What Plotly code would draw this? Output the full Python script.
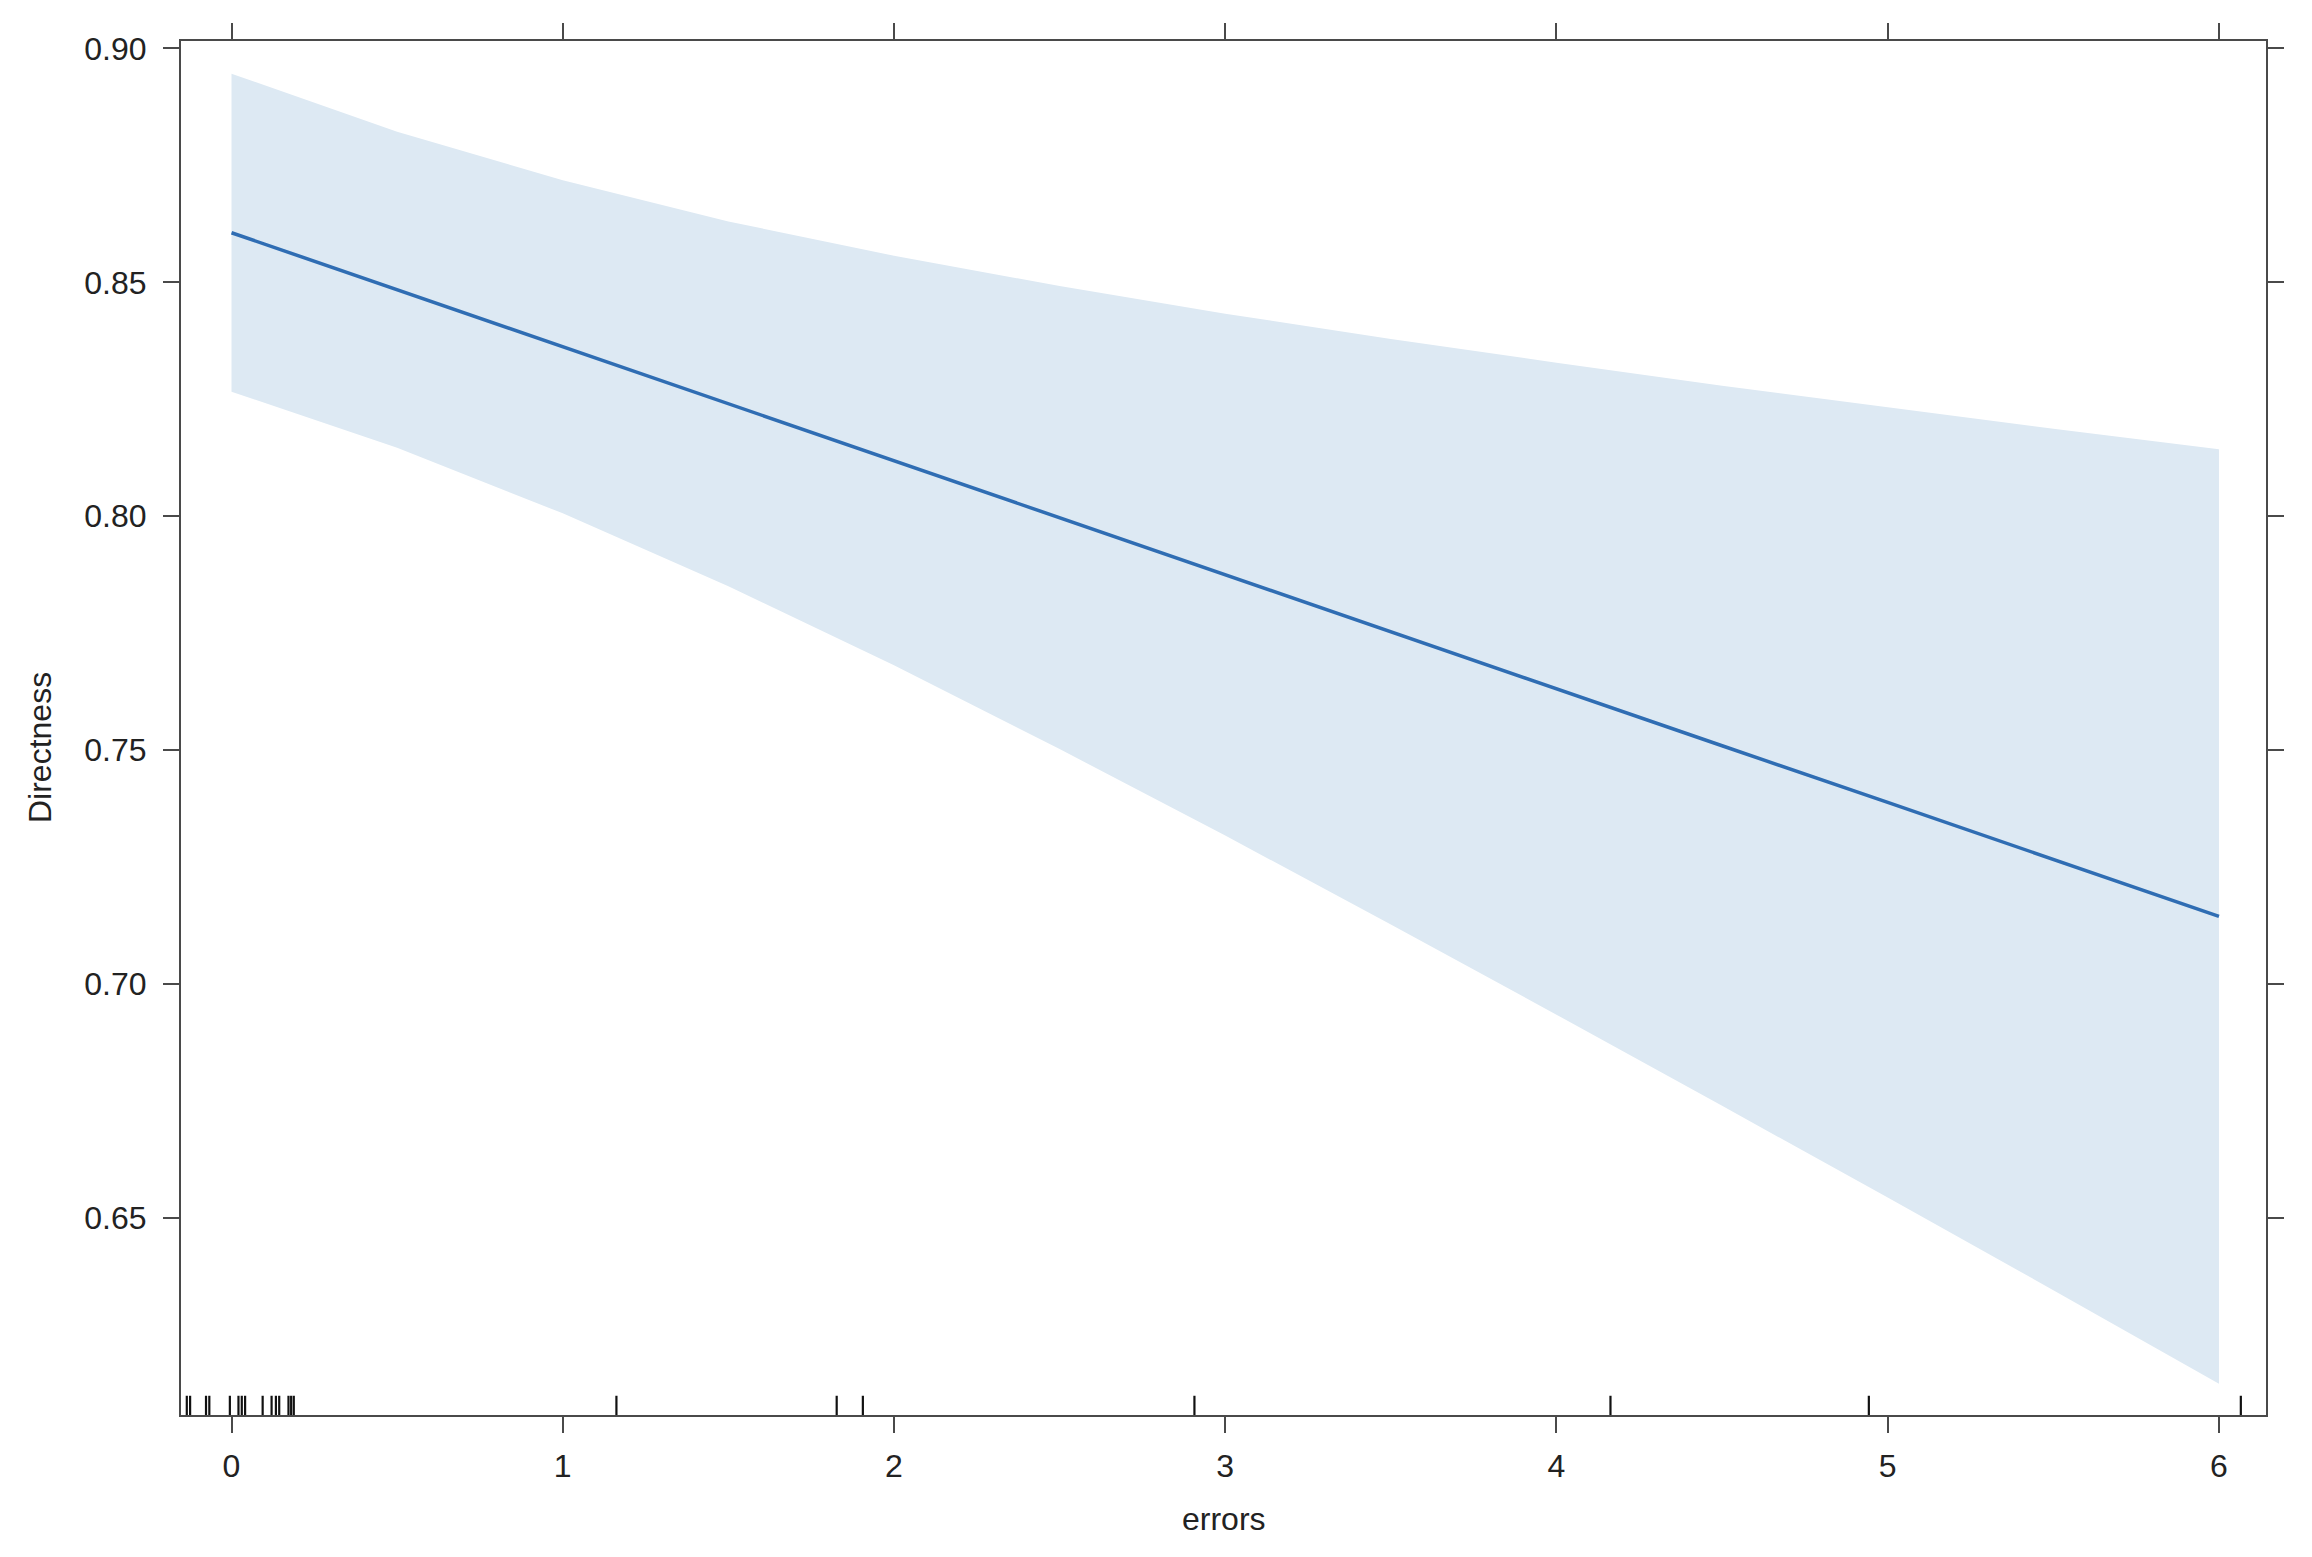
import plotly.graph_objects as go

# ---- data ----
errors_x = [0, 0.5, 1, 1.5, 2, 2.5, 3, 3.5, 4, 4.5, 5, 5.5, 6]
fit = [0.8606, 0.8484, 0.8362, 0.8240, 0.8119, 0.7997, 0.7875,
       0.7753, 0.7631, 0.7509, 0.7388, 0.7266, 0.7144]
upper = [0.8946, 0.8822, 0.8718, 0.8630, 0.8557, 0.8492, 0.8433,
         0.8379, 0.8328, 0.8279, 0.8233, 0.8187, 0.8143]
lower = [0.8266, 0.8146, 0.8006, 0.7850, 0.7681, 0.7502, 0.7317,
         0.7127, 0.6934, 0.6739, 0.6543, 0.6345, 0.6145]
rug = [-0.135, -0.125, -0.077, -0.067, -0.005, 0.021, 0.031, 0.041,
       0.094, 0.121, 0.134, 0.144, 0.172, 0.180, 0.188,
       1.162, 1.827, 1.906, 2.907, 4.163, 4.943, 6.066]
x_ticks = [0, 1, 2, 3, 4, 5, 6]
y_ticks = [0.65, 0.70, 0.75, 0.80, 0.85, 0.90]

# page body has an 8px margin, so the figure is sized to fit inside it
W, H = 2296, 1541
ml, mr, mt, mb = 173, 38, 33, 134
FONT = "Liberation Sans, Arial, sans-serif"
AXIS_COL = "#4a4a4a"

fig = go.Figure()
fig.add_trace(go.Scatter(
    x=errors_x + errors_x[::-1], y=upper + lower[::-1],
    fill="toself", fillcolor="#dde9f3", line=dict(width=0),
    mode="lines", hoverinfo="skip", showlegend=False))
fig.add_trace(go.Scatter(
    x=errors_x, y=fit, mode="lines",
    line=dict(color="#2f6db3", width=3.5), showlegend=False))

for r in rug:
    fig.add_shape(type="line", xref="x", yref="y domain",
                  x0=r, x1=r, y0=0, y1=0.014,
                  line=dict(color="#111111", width=2.2))

axis_common = dict(
    showline=True, linecolor=AXIS_COL, linewidth=2, mirror="ticks",
    ticks="outside", ticklen=16, tickwidth=2, tickcolor=AXIS_COL,
    showgrid=False, zeroline=False,
    tickfont=dict(family=FONT, size=32, color="#222222"),
)
fig.update_xaxes(range=[-0.1525, 6.142], tickvals=x_ticks,
                 ticktext=[str(v) for v in x_ticks],
                 ticklabelstandoff=6, **axis_common)
fig.update_yaxes(range=[0.6078, 0.9016], tickvals=y_ticks,
                 ticktext=[f"{v:.2f}" for v in y_ticks],
                 ticklabelstandoff=10, **axis_common)

fig.add_annotation(text="errors", xref="paper", yref="paper", x=0.5, y=0,
                   xanchor="center", yanchor="middle", yshift=-104,
                   showarrow=False,
                   font=dict(family=FONT, size=32, color="#222222"))
fig.add_annotation(text="Directness", xref="paper", yref="paper", x=0, y=0.5,
                   xanchor="center", yanchor="middle", xshift=-141, yshift=-20,
                   textangle=-90, showarrow=False,
                   font=dict(family=FONT, size=32, color="#222222"))

fig.update_layout(
    width=W, height=H, autosize=False,
    margin=dict(l=ml, r=mr, t=mt, b=mb, pad=0),
    plot_bgcolor="white", paper_bgcolor="white",
    showlegend=False,
)
fig.write_html("out.html")
